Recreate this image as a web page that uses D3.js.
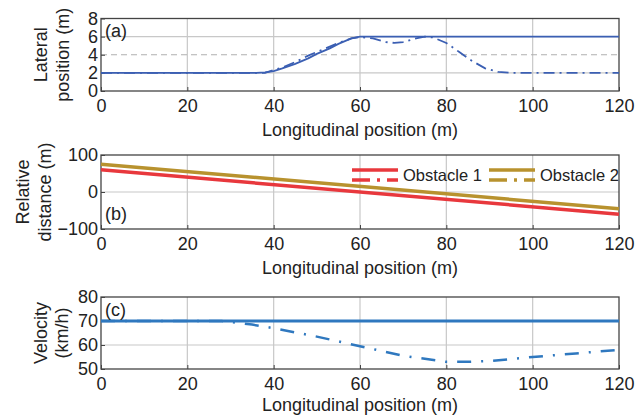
<!DOCTYPE html>
<html>
<head>
<meta charset="utf-8">
<script src="https://cdn.jsdelivr.net/npm/d3@7"></script>
<style>
  body { margin: 0; background: #fff; }
  text { font-family: "Liberation Sans", Arial, sans-serif; fill: #222; }
</style>
</head>
<body>
<svg id="chart" width="635" height="416"></svg>
<script>
// panel (a) lateral position
var latX = [0, 10, 20, 30, 36, 38, 40, 42, 45, 48, 50, 53, 55, 58, 60, 70, 80, 90, 100, 110, 120]
var latSolid = [2, 2, 2, 2, 2, 2.05, 2.2, 2.5, 3, 3.6, 4.1, 4.7, 5.2, 5.8, 6, 6, 6, 6, 6, 6, 6]
var latDashX = [0, 10, 20, 30, 38, 40, 42, 45, 48, 50, 53, 55, 58, 60, 63, 66, 68, 70, 73, 75, 77, 80, 83, 86, 89, 92, 95, 100, 110, 120]
var latDash = [2, 2, 2, 2, 2, 2.3, 2.6, 3.2, 3.9, 4.3, 4.9, 5.3, 5.8, 5.95, 5.8, 5.4, 5.3, 5.4, 5.8, 6, 5.9, 5.3, 4.3, 3.3, 2.5, 2.1, 2, 2, 2, 2]

// panel (b) relative distance
var relX = [0, 120]
var obs1 = [60, -60]
var obs2 = [75, -45]

// panel (c) velocity
var velX = [0, 10, 20, 28, 35, 40, 50, 60, 70, 80, 85, 90, 100, 110, 120]
var velSolid = [70, 70, 70, 70, 70, 70, 70, 70, 70, 70, 70, 70, 70, 70, 70]
var velDash = [70, 70, 70, 70, 68.5, 67, 63.5, 59.5, 55.5, 53, 53, 53.3, 55, 56.5, 58]

var xTicks = [0, 20, 40, 60, 80, 100, 120]

var dimensions = { left: 101, right: 619 }
var svg = d3.select("#chart")

var xScale = d3.scaleLinear().domain([0, 120]).range([dimensions.left, dimensions.right])

function panel(cfg) {
  var y = d3.scaleLinear().domain(cfg.domain).range([cfg.bottom, cfg.top])
  var g = svg.append("g")

  // grid
  g.selectAll(".vg").data(xTicks.slice(1, -1)).enter().append("line")
    .attr("x1", d => xScale(d)).attr("x2", d => xScale(d))
    .attr("y1", cfg.top).attr("y2", cfg.bottom)
    .attr("stroke", "#c8c8c8").attr("stroke-width", 1.2)
  g.selectAll(".hg").data(cfg.grid).enter().append("line")
    .attr("x1", dimensions.left).attr("x2", dimensions.right)
    .attr("y1", d => y(d.v)).attr("y2", d => y(d.v))
    .attr("stroke", d => d.dash ? "#b0b0b0" : "#c8c8c8")
    .attr("stroke-width", 1.2)
    .attr("stroke-dasharray", d => d.dash ? "6,4" : null)

  // axes
  var xa = g.append("g")
    .attr("transform", `translate(0,${cfg.bottom})`)
    .call(d3.axisBottom(xScale).tickValues(xTicks).tickSize(-4).tickPadding(8).tickFormat(d3.format("d")))
  var ya = g.append("g")
    .attr("transform", `translate(${dimensions.left},0)`)
    .call(d3.axisLeft(y).tickValues(cfg.ticks).tickSize(-4).tickPadding(3)
      .tickFormat(d => d < 0 ? "\u2212" + Math.abs(d) : d))
  ;[xa, ya].forEach(a => {
    a.select(".domain").remove()
    a.selectAll("line").attr("stroke", "#444")
    a.selectAll("text").style("font-size", "18px").attr("fill", "#222")
  })
  xa.selectAll("text").attr("dy", "0.71em")

  // box
  g.append("rect")
    .attr("x", dimensions.left).attr("y", cfg.top)
    .attr("width", dimensions.right - dimensions.left).attr("height", cfg.bottom - cfg.top)
    .attr("fill", "none").attr("stroke", "#444").attr("stroke-width", 1.3)

  // series
  cfg.series.forEach(s => {
    var line = d3.line().x((d, i) => xScale(s.x[i])).y(d => y(d))
    g.append("path").datum(s.y)
      .attr("d", line)
      .attr("fill", "none")
      .attr("stroke", s.color)
      .attr("stroke-width", s.width)
      .attr("stroke-dasharray", s.dash)
  })

  g.append("text").attr("x", dimensions.left + 4).attr("y", cfg.labelY)
    .style("font-size", "18px").text(cfg.label)

  g.append("text")
    .attr("x", (dimensions.left + dimensions.right) / 2).attr("y", cfg.bottom + (cfg.titleGap || 45))
    .attr("text-anchor", "middle").style("font-size", "18px")
    .text("Longitudinal position (m)")

  var cy = (cfg.top + cfg.bottom) / 2
  cfg.ytitle.forEach((t, i) => {
    g.append("text")
      .attr("transform", `translate(${cfg.ytitleX[i]},${cy}) rotate(-90)`)
      .attr("text-anchor", "middle").style("font-size", "18px").text(t)
  })
  return y
}

panel({
  top: 18.5, bottom: 91, domain: [0, 8], ticks: [0, 2, 4, 6, 8],
  grid: [{ v: 2 }, { v: 4, dash: true }, { v: 6 }],
  label: "(a)", labelY: 37,
  ytitle: ["Lateral", "position (m)"], ytitleX: [47, 69],
  series: [
    { x: latDashX, y: latDash, color: "#3b5fb3", width: 1.8, dash: "11,5,2,5" },
    { x: latX, y: latSolid, color: "#3b5fb3", width: 1.8, dash: null }
  ]
})

panel({
  top: 155, bottom: 229, domain: [-100, 100], ticks: [-100, 0, 100],
  grid: [{ v: 0 }],
  label: "(b)", labelY: 220,
  ytitle: ["Relative", "distance (m)"], ytitleX: [29, 51],
  series: [
    { x: relX, y: obs1, color: "#e8383d", width: 3.5, dash: null },
    { x: relX, y: obs2, color: "#b8922e", width: 3.5, dash: null }
  ]
})

panel({
  top: 297, bottom: 369, domain: [50, 80], ticks: [50, 60, 70, 80],
  grid: [{ v: 60 }, { v: 70 }],
  label: "(c)", labelY: 316, titleGap: 42,
  ytitle: ["Velocity", "(km/h)"], ytitleX: [47, 68],
  series: [
    { x: velX, y: velDash, color: "#2f78bf", width: 2.5, dash: "14,10,2,10" },
    { x: velX, y: velSolid, color: "#2f78bf", width: 3.2, dash: null }
  ]
})

// legend for panel (b)
var legend = [
  { name: "Obstacle 1", color: "#e8383d", x: 352 },
  { name: "Obstacle 2", color: "#b8922e", x: 489 }
]
legend.forEach(l => {
  svg.append("line").attr("x1", l.x).attr("x2", l.x + 46).attr("y1", 170).attr("y2", 170)
    .attr("stroke", l.color).attr("stroke-width", 3.5)
  svg.append("line").attr("x1", l.x).attr("x2", l.x + 46).attr("y1", 180).attr("y2", 180)
    .attr("stroke", l.color).attr("stroke-width", 3.5).attr("stroke-dasharray", "18,7,3,7")
  svg.append("text").attr("x", l.x + 51).attr("y", 181).style("font-size", "16.5px").text(l.name)
})
</script>
</body>
</html>
